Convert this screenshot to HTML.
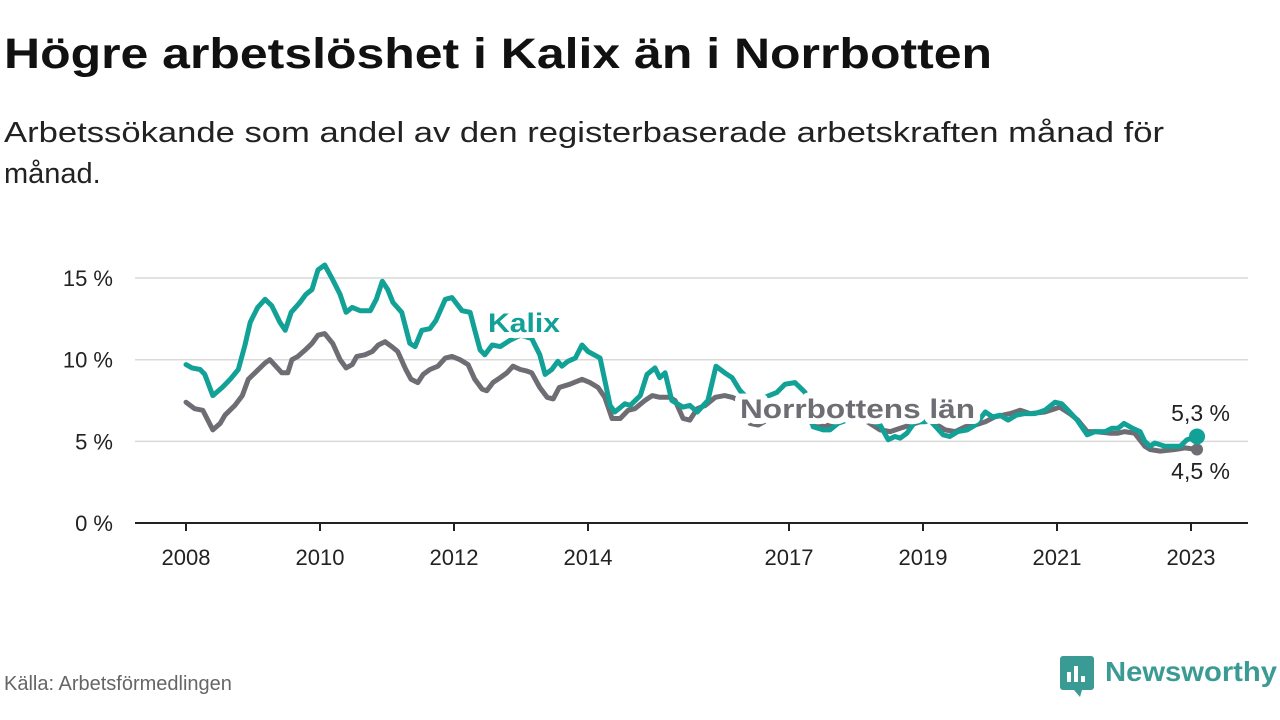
<!DOCTYPE html>
<html><head><meta charset="utf-8"><style>
html,body{margin:0;padding:0;background:#fff;}
svg{display:block;font-family:"Liberation Sans","DejaVu Sans",sans-serif;}
.halo{paint-order:stroke;stroke:#fff;stroke-width:12px;stroke-linejoin:round;}
</style></head><body>
<svg id="chart" width="1280" height="720" viewBox="0 0 1280 720">
<text x="4" y="68" font-size="43" font-weight="bold" fill="#111" textLength="988" lengthAdjust="spacingAndGlyphs">Högre arbetslöshet i Kalix än i Norrbotten</text>
<text x="4" y="142" font-size="29" fill="#222" textLength="1160" lengthAdjust="spacingAndGlyphs">Arbetssökande som andel av den registerbaserade arbetskraften månad för</text>
<text x="4" y="183" font-size="29" fill="#222">månad.</text>
<g id="grid"></g><g id="xaxis"></g><g id="series"></g><g id="labels"></g>
<text x="4" y="690" font-size="20" fill="#666">Källa: Arbetsförmedlingen</text>
<g>
<rect x="1060" y="656" width="34" height="34" rx="3" fill="#3a9a94"/>
<rect x="1067" y="672" width="4" height="10" fill="#fff"/><rect x="1074" y="666" width="4" height="16" fill="#fff"/><rect x="1081" y="676" width="4" height="6" fill="#fff"/>
<path d="M1074 690 L1080 697 L1082 690 Z" fill="#3a9a94"/>
<text x="1105" y="681" font-size="28" font-weight="bold" fill="#3a9a94" textLength="172" lengthAdjust="spacingAndGlyphs">Newsworthy</text>
</g>
</svg>
<script>
const yTicks=[0,5,10,15];
const yTickLabels=["0 %","5 %","10 %","15 %"];
const xTicks=[2008,2010,2012,2014,2017,2019,2021,2023];
const kalixDates=[2008.0,2008.09,2008.21,2008.28,2008.40,2008.54,2008.66,2008.78,2008.88,2008.96,2009.07,2009.18,2009.28,2009.40,2009.48,2009.57,2009.70,2009.79,2009.88,2009.97,2010.07,2010.19,2010.30,2010.39,2010.48,2010.60,2010.75,2010.84,2010.93,2011.01,2011.09,2011.22,2011.34,2011.42,2011.52,2011.64,2011.73,2011.87,2011.97,2012.12,2012.24,2012.31,2012.39,2012.46,2012.57,2012.69,2012.84,2012.99,2013.16,2013.28,2013.36,2013.46,2013.55,2013.61,2013.70,2013.81,2013.91,2014.00,2014.18,2014.33,2014.40,2014.55,2014.63,2014.78,2014.88,2015.00,2015.07,2015.15,2015.25,2015.42,2015.52,2015.63,2015.79,2015.91,2016.04,2016.15,2016.27,2016.42,2016.64,2016.82,2016.94,2017.09,2017.24,2017.36,2017.51,2017.61,2017.73,2018.06,2018.36,2018.48,2018.58,2018.66,2018.76,2018.88,2019.03,2019.10,2019.30,2019.40,2019.52,2019.66,2019.78,2019.93,2020.04,2020.15,2020.27,2020.39,2020.52,2020.67,2020.82,2020.97,2021.07,2021.19,2021.30,2021.45,2021.57,2021.72,2021.82,2021.91,2022.00,2022.13,2022.24,2022.31,2022.39,2022.46,2022.61,2022.76,2022.84,2022.94,2023.09];
const kalixValues=[9.7,9.5,9.4,9.1,7.8,8.3,8.8,9.4,10.9,12.3,13.2,13.7,13.3,12.3,11.8,12.9,13.5,14.0,14.3,15.5,15.8,14.9,14.0,12.9,13.2,13.0,13.0,13.7,14.8,14.3,13.5,12.9,11.0,10.8,11.8,11.9,12.4,13.7,13.8,13.0,12.9,11.8,10.6,10.3,10.9,10.8,11.2,11.5,11.3,10.3,9.1,9.4,9.9,9.6,9.9,10.1,10.9,10.5,10.1,7.2,6.8,7.3,7.2,7.8,9.1,9.5,8.9,9.2,7.5,7.1,7.2,6.8,7.5,9.6,9.2,8.9,8.1,7.5,7.7,8.0,8.5,8.6,8.0,5.9,5.7,5.7,6.1,6.6,6.0,5.1,5.3,5.2,5.5,6.2,6.2,6.3,5.4,5.3,5.6,5.7,6.0,6.8,6.5,6.6,6.3,6.6,6.7,6.7,6.9,7.4,7.3,6.8,6.3,5.4,5.6,5.6,5.8,5.8,6.1,5.8,5.6,5.0,4.7,4.9,4.7,4.7,4.7,5.1,5.3];
const lanDates=[2008.0,2008.13,2008.25,2008.40,2008.51,2008.58,2008.73,2008.84,2008.93,2009.03,2009.18,2009.25,2009.34,2009.43,2009.52,2009.58,2009.67,2009.78,2009.88,2009.97,2010.07,2010.19,2010.30,2010.39,2010.48,2010.55,2010.67,2010.78,2010.87,2010.97,2011.07,2011.16,2011.28,2011.36,2011.46,2011.54,2011.64,2011.76,2011.87,2011.97,2012.09,2012.21,2012.31,2012.42,2012.49,2012.58,2012.69,2012.79,2012.88,2012.99,2013.09,2013.16,2013.28,2013.39,2013.48,2013.57,2013.73,2013.91,2014.03,2014.15,2014.25,2014.36,2014.48,2014.60,2014.70,2014.85,2014.96,2015.07,2015.22,2015.30,2015.42,2015.52,2015.63,2015.75,2015.90,2016.04,2016.15,2016.27,2016.42,2016.54,2016.72,2017.01,2017.24,2017.39,2017.54,2017.64,2017.84,2018.13,2018.36,2018.51,2018.66,2018.81,2018.96,2019.10,2019.33,2019.48,2019.63,2019.78,2019.93,2020.07,2020.19,2020.30,2020.45,2020.60,2020.82,2020.97,2021.04,2021.19,2021.31,2021.45,2021.57,2021.79,2021.91,2022.01,2022.16,2022.31,2022.39,2022.54,2022.76,2022.91,2023.09];
const lanValues=[7.4,7.0,6.9,5.7,6.1,6.6,7.2,7.8,8.8,9.2,9.8,10.0,9.6,9.2,9.2,10.0,10.2,10.6,11.0,11.5,11.6,11.0,10.0,9.5,9.7,10.2,10.3,10.5,10.9,11.1,10.8,10.5,9.4,8.8,8.6,9.1,9.4,9.6,10.1,10.2,10.0,9.7,8.8,8.2,8.1,8.6,8.9,9.2,9.6,9.4,9.3,9.2,8.3,7.7,7.6,8.3,8.5,8.8,8.6,8.3,7.7,6.4,6.4,6.9,7.0,7.5,7.8,7.7,7.7,7.5,6.4,6.3,7.0,7.2,7.7,7.8,7.7,7.5,6.1,6.0,6.4,6.8,6.4,6.0,5.9,6.1,6.3,6.3,5.7,5.6,5.8,6.0,6.2,6.3,5.7,5.6,5.9,6.0,6.2,6.5,6.6,6.7,6.9,6.7,6.8,7.0,7.1,6.7,6.3,5.6,5.6,5.5,5.5,5.6,5.5,4.7,4.5,4.4,4.5,4.6,4.5];
const NS="http://www.w3.org/2000/svg";
const x=d=>186+(d-2008)*67;
const y=v=>523-v*16.33;
function mk(tag,attrs,parent){const e=document.createElementNS(NS,tag);for(const k in attrs)e.setAttribute(k,attrs[k]);parent.appendChild(e);return e;}
const grid=document.getElementById('grid');
yTicks.forEach((t,i)=>{
  if(t>0){const l=mk('line',{x1:135,x2:1248,y1:y(t),y2:y(t),stroke:'#d9d9d9','stroke-width':1.5},grid);
  
  }
  const tx=mk('text',{x:113,y:y(t)+8,'font-size':22,'text-anchor':'end',fill:'#222'},grid);
  tx.textContent=yTickLabels[i];
  
  
});
const xa=document.getElementById('xaxis');
const ax=mk('line',{x1:135,x2:1248,y1:523,y2:523,stroke:'#222','stroke-width':2},xa);


xTicks.forEach(t=>{
  mk('line',{x1:x(t),x2:x(t),y1:523,y2:531,stroke:'#222','stroke-width':2},xa);
  const tx=mk('text',{x:x(t),y:565,'font-size':22,'text-anchor':'middle',fill:'#222'},xa);
  tx.textContent=t;
  
  
});
const s=document.getElementById('series');
function line(ds,vs,col,name){
  const p=mk('path',{d:ds.map((d,i)=>(i?'L':'M')+x(d).toFixed(1)+' '+y(vs[i]).toFixed(1)).join(''),fill:'none',stroke:col,'stroke-width':5,'stroke-linejoin':'round','stroke-linecap':'round'},s);
  
  
}
line(lanDates,lanValues,'#6e6d73','norrbotten-line');
line(kalixDates,kalixValues,'#12a196','kalix-line');
const ld=mk('circle',{cx:x(lanDates[lanDates.length-1]),cy:y(lanValues[lanValues.length-1]),r:6,fill:'#6e6d73'},s);


const kd=mk('circle',{cx:x(kalixDates[kalixDates.length-1]),cy:y(kalixValues[kalixValues.length-1]),r:8,fill:'#12a196'},s);


const lb=document.getElementById('labels');
function lab(tx,xx,yy,col,bold,anchor,name,len){
  const t=mk('text',{x:xx,y:yy,'font-size':bold?27:23,'font-weight':bold?'bold':'normal',fill:col,'text-anchor':anchor,class:'halo'},lb);
  if(len){t.setAttribute('textLength',len);t.setAttribute('lengthAdjust','spacingAndGlyphs');}
  t.textContent=tx;
  
  
}
lab('Kalix',488,332,'#12a196',true,'start','kalix-label',72);
lab('Norrbottens län',740,418,'#6e6d73',true,'start','norrbotten-label',235);
lab('5,3 %',1230,421,'#222',false,'end','kalix-end-value');
lab('4,5 %',1230,479,'#222',false,'end','norrbotten-end-value');
</script>
</body></html>
